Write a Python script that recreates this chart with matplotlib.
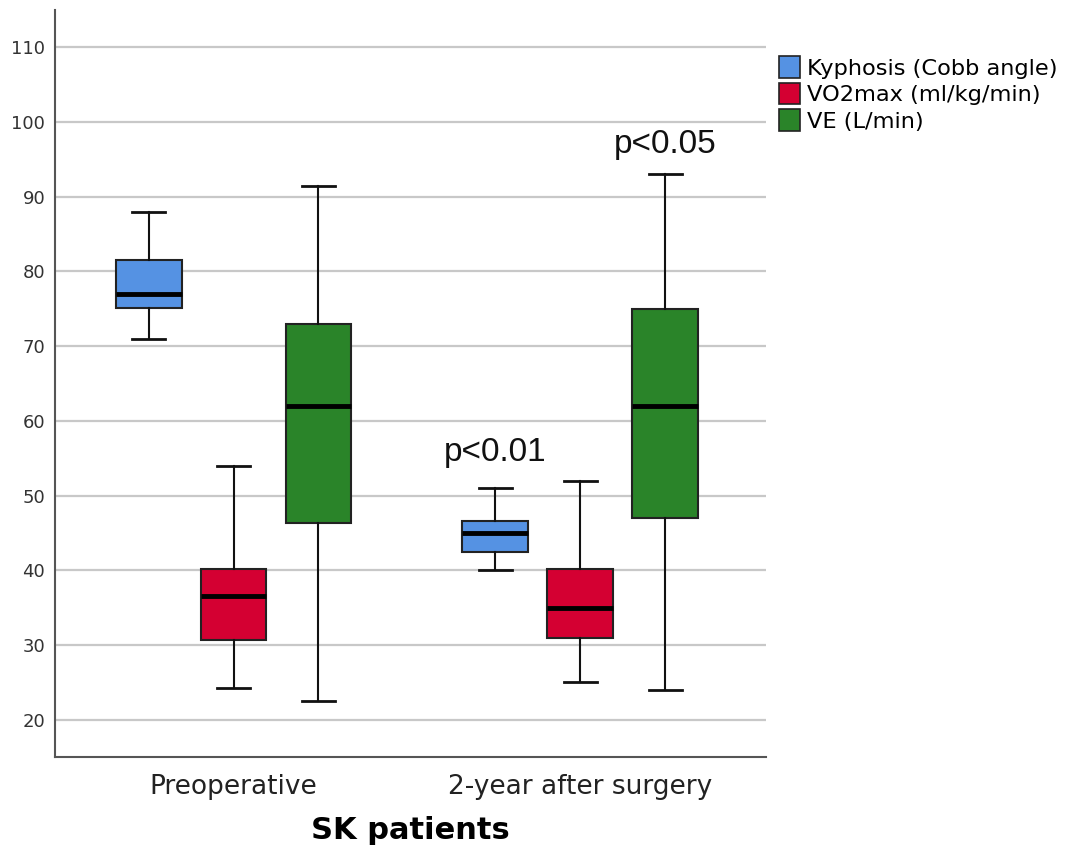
import matplotlib
matplotlib.use("Agg")
import matplotlib.pyplot as plt
from matplotlib.patches import Patch

# Groups and measured variables
groups = ["Preoperative", "2-year after surgery"]
series = ["Kyphosis (Cobb angle)", "VO2max (ml/kg/min)", "VE (L/min)"]
colors = ["#5592e3", "#d40032", "#2a8429"]

# Five-number summaries per group: (whislo, q1, median, q3, whishi)
kyphosis = [(71.0, 75.1, 77.0, 81.5, 88.0), (40.0, 42.5, 45.0, 46.6, 51.0)]
vo2max = [(24.3, 30.6, 36.6, 40.1, 54.0), (25.0, 30.9, 35.0, 40.2, 52.0)]
ve = [(22.5, 46.3, 62.0, 73.0, 91.5), (24.0, 47.0, 62.0, 75.0, 93.0)]

# Significance labels: text, group index, series index, baseline value
annotations = [("p<0.01", 1, 0, 54.6), ("p<0.05", 1, 2, 95.8)]

fig = plt.figure(figsize=(10.83, 8.51), dpi=100)
ax = fig.add_axes([0.0508, 0.1105, 0.6565, 0.8777])

offsets = [-0.245, 0.0, 0.245]
box_w = 0.19
for si, (data, col) in enumerate(zip([kyphosis, vo2max, ve], colors)):
    stats = []
    for d in data:
        lo, q1, med, q3, hi = d
        stats.append(dict(whislo=lo, q1=q1, med=med, q3=q3, whishi=hi, fliers=[]))
    positions = [gi + offsets[si] for gi in range(len(groups))]
    ax.bxp(stats, positions=positions, widths=box_w, patch_artist=True,
           showfliers=False,
           boxprops=dict(facecolor=col, edgecolor="#222222", linewidth=1.5),
           medianprops=dict(color="black", linewidth=3.5),
           whiskerprops=dict(color="#111111", linewidth=1.5),
           capprops=dict(color="#111111", linewidth=2.0),
           capwidths=box_w / 2, zorder=3)

for txt, gi, si, y in annotations:
    ax.text(gi + offsets[si], y, txt, ha="center", va="baseline",
            fontsize=24, family="Liberation Sans", color="#111111")

ax.set_xlim(-0.515, 1.536)
ax.set_ylim(15, 115)
ax.set_yticks(range(20, 111, 10))
ax.set_xticks(range(len(groups)))
ax.set_xticklabels(groups, fontsize=19, color="#222222")
ax.tick_params(axis="y", labelsize=13, colors="#333333", length=0, pad=7)
ax.tick_params(axis="x", length=0, pad=12)
ax.yaxis.grid(True, color="#c8c8c8", linewidth=1.6)
ax.set_axisbelow(True)
for s in ["top", "right"]:
    ax.spines[s].set_visible(False)
for s in ["left", "bottom"]:
    ax.spines[s].set_color("#555555")
    ax.spines[s].set_linewidth(1.5)

ax.set_xlabel("SK patients", fontsize=22, fontweight="bold", labelpad=12)

handles = [Patch(facecolor=c, edgecolor="#222222", linewidth=1.2) for c in colors]
fig.legend(handles, series, loc="upper left", bbox_to_anchor=(0.719, 0.934),
           frameon=False, fontsize=16.2, handlelength=0.95, handleheight=1.1,
           handletextpad=0.3, labelspacing=0.18, borderaxespad=0,
           borderpad=0)

fig.savefig("out.png", dpi=100)
